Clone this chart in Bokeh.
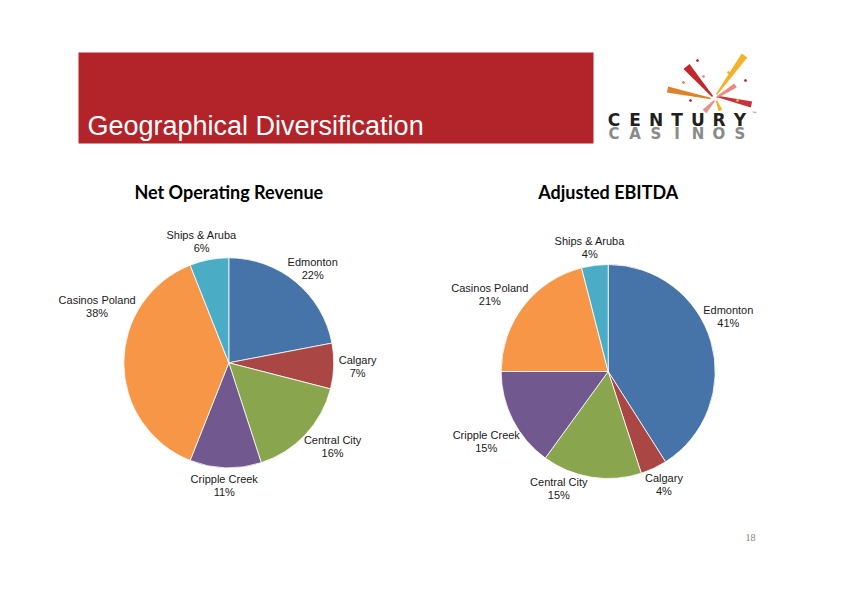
import numpy as np
from bokeh.plotting import figure
from bokeh.models import Range1d, ColumnDataSource
from bokeh.core.properties import value
from bokeh.embed import file_html
from bokeh.resources import INLINE

# ---------------- data ----------------
regions = ["Edmonton", "Calgary", "Central City", "Cripple Creek", "Casinos Poland", "Ships & Aruba"]
revenue_pct = [22, 7, 16, 11, 38, 6]
ebitda_pct = [41, 4, 15, 15, 21, 4]
chart_titles = ["Net Operating Revenue", "Adjusted EBITDA"]
page_title = "Geographical Diversification"
page_number = "18"
logo_top = "CENTURY"
logo_bottom = "CASINOS"

# ---------------- styles / layout ----------------
colors = ["#4673A8", "#AA4643", "#89A54E", "#71588F", "#F79646", "#4BACC6"]
W, H = 826, 579

p = figure(width=W, height=H, x_range=Range1d(0, W), y_range=Range1d(595 - H, 595),
           output_backend="svg", toolbar_location=None, min_border=0)
p.axis.visible = False
p.grid.visible = False
p.outline_line_color = None
p.background_fill_color = "white"


def Y(py):
    return 595 - py


# banner
p.quad(left=78, right=593, top=Y(52), bottom=Y(143), fill_color="#B2232A", line_color=None)
p.text(x=[87], y=[Y(125.5)], text=[page_title], text_font=value("Liberation Sans"),
       text_font_size="27px", text_color="white", text_align="left", text_baseline="middle")


def pie(cx, cy, r, vals, title, title_y, overrides):
    vals = np.array(vals, dtype=float)
    frac = vals / vals.sum()
    cum = np.concatenate([[0.0], np.cumsum(frac)])
    start = np.pi / 2 - 2 * np.pi * cum[:-1]
    end = np.pi / 2 - 2 * np.pi * cum[1:]
    src = ColumnDataSource(dict(start=start, end=end, color=colors))
    p.wedge(x=cx, y=Y(cy), radius=r, start_angle="start", end_angle="end",
            direction="clock", fill_color="color", line_color="white", line_width=0.8,
            source=src)
    names, pcts, lx, ly1, ly2 = [], [], [], [], []
    for i, name in enumerate(regions):
        theta = 360 * (cum[i] + cum[i + 1]) / 2
        if name in overrides:
            theta = overrides[name]
        t = np.radians(theta)
        pct = f"{int(round(vals[i]))}%"
        gap = 5
        ax = cx + (r + gap) * np.sin(t)
        ay = cy - (r + gap) * np.cos(t)
        w = 5.4 * max(len(name), len(pct))
        h = 26
        bx = ax + w / 2 * np.sin(t)
        by = ay - h / 2 * np.cos(t)
        names.append(name)
        pcts.append(pct)
        lx.append(bx)
        ly1.append(Y(by - 6.5))
        ly2.append(Y(by + 6.5))
    for ys, txt in ((ly1, names), (ly2, pcts)):
        p.text(x=lx, y=ys, text=txt, text_font=value("Liberation Sans"), text_font_size="11px",
               text_color="#1a1a1a", text_align="center", text_baseline="middle")
    p.text(x=[cx], y=[Y(title_y)], text=[title], text_font=value("Lato"), text_font_style="bold",
           text_font_size="18px", text_color="black", text_align="center", text_baseline="middle")


pie(228.3, 362.3, 105, revenue_pct, chart_titles[0], 191, {"Casinos Poland": 297})
pie(607.7, 371.0, 107, ebitda_pct, chart_titles[1], 191,
    {"Edmonton": 64, "Central City": 200, "Cripple Creek": 236})

# ---------------- logo ----------------
def stroke(x0, y0, x1, y1, w0, w1, color):
    dx, dy = x1 - x0, y1 - y0
    L = np.hypot(dx, dy)
    nx, ny = -dy / L, dx / L
    xs = [x0 + nx * w0 / 2, x1 + nx * w1 / 2, x1 - nx * w1 / 2, x0 - nx * w0 / 2]
    ys = [y0 + ny * w0 / 2, y1 + ny * w1 / 2, y1 - ny * w1 / 2, y0 - ny * w0 / 2]
    p.patch(x=xs, y=[Y(v) for v in ys], fill_color=color, line_color=None)


stroke(712, 96, 686, 66, 1.5, 8, "#C1272D")
stroke(716, 94, 744, 55, 1.5, 7, "#F2B22A")
stroke(710, 98, 667, 89, 1.5, 6, "#E0822A")
stroke(717, 96, 751, 104, 1.5, 6, "#C8323A")
stroke(716, 97, 735, 85, 1.5, 5, "#E88A80")
stroke(714, 100, 704, 111, 1.5, 5, "#E58E8A")
stroke(716, 100, 720, 110, 1.5, 4, "#F2B22A")
p.scatter(x=[697, 728, 745, 683, 703, 737, 690], y=[Y(v) for v in [60, 72, 80, 82, 76, 100, 100]],
          size=2, color=["#C1272D", "#F2B22A", "#C1272D", "#E0822A", "#E58E8A", "#F2B22A", "#C1272D"])

step = 147 / 7
lx = [603 + step / 2 + i * step for i in range(7)]
p.text(x=lx, y=[Y(119.5)] * 7, text=list(logo_top), text_font=value("DejaVu Sans"),
       text_font_style="bold", text_font_size="17px", text_color="#231F20",
       text_align="center", text_baseline="middle")
p.text(x=lx, y=[Y(133)] * 7, text=list(logo_bottom), text_font=value("DejaVu Sans"),
       text_font_style="bold", text_font_size="15px", text_color="#8A8A8A",
       text_align="center", text_baseline="middle")
p.text(x=[751], y=[Y(113)], text=["™"], text_font=value("DejaVu Sans"), text_font_size="6px",
       text_color="#555555", text_align="left", text_baseline="middle")

# page number
p.text(x=[750], y=[Y(537)], text=[page_number], text_font=value("Liberation Serif"),
       text_font_size="10px", text_color="#7F7F7F", text_align="center", text_baseline="middle")

open("out.html", "w").write(file_html(p, INLINE))
